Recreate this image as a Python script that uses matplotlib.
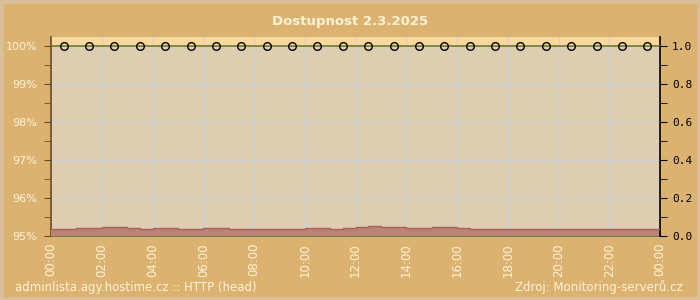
import matplotlib
matplotlib.use("Agg")
import matplotlib.pyplot as plt
from matplotlib.patches import Rectangle
import numpy as np

# availability per hour (%), marker at half past each hour
avail_hours = [h + 0.5 for h in range(24)]
avail_pct = [100.0] * 24

# response time (s) per half hour
resp_start = [h * 0.5 for h in range(48)]
resp_sec = [0.037, 0.037, 0.042, 0.042, 0.047, 0.047, 0.042, 0.037,
            0.042, 0.042, 0.037, 0.037, 0.042, 0.042, 0.037, 0.037,
            0.037, 0.037, 0.037, 0.037, 0.042, 0.042, 0.037, 0.042,
            0.047, 0.053, 0.047, 0.047, 0.042, 0.042, 0.047, 0.047,
            0.042, 0.037, 0.037, 0.037, 0.037, 0.037, 0.037, 0.037,
            0.037, 0.037, 0.037, 0.037, 0.037, 0.037, 0.037, 0.037]

xlabels = ["00:00", "02:00", "04:00", "06:00", "08:00", "10:00", "12:00",
           "14:00", "16:00", "18:00", "20:00", "22:00", "00:00"]
left_labels = ["95%", "96%", "97%", "98%", "99%", "100%"]

cream = "#fff3d6"
fig = plt.figure(figsize=(7, 3), dpi=100, facecolor="#dcb271")
fig.patches.append(Rectangle((0, 0), 1, 1, transform=fig.transFigure,
                             fill=False, edgecolor="#d9c09a", lw=5))

ax = fig.add_axes([51 / 700, 1 - 236 / 300, 609 / 700, 199 / 300])
ax.set_facecolor("#ddcdb1")
top = 95 + 199 / 38
ax.set_xlim(0, 24)
ax.set_ylim(95, top)
ax.axhspan(100, top, color="#fcd89c", zorder=0)

ax.set_xticks(range(0, 25, 2))
ax.set_xticks(np.arange(0, 24.01, 0.5), minor=True)
ax.set_xticklabels(xlabels, rotation=90, color=cream, fontsize=8.5)
ax.set_yticks([95, 96, 97, 98, 99, 100])
ax.set_yticks(np.arange(95.5, 100, 1), minor=True)
ax.set_yticklabels(left_labels, color=cream, fontsize=8)
ax.grid(True, which="major", color="#cdd0d6", lw=0.9)
ax.tick_params(axis="x", which="major", direction="in", length=5, color="#5d6e45", pad=5)
ax.tick_params(axis="x", which="minor", direction="in", length=3, color="#5d6e45")
ax.tick_params(axis="y", which="both", direction="out", length=5, color="#6b4a22", pad=5)
for s in ["top", "right"]:
    ax.spines[s].set_visible(False)
ax.spines["left"].set_color("#6b4a22")
ax.spines["bottom"].set_color("#5d6e45")
ax.spines["left"].set_linewidth(1.2)
ax.spines["bottom"].set_linewidth(1.2)

ax2 = ax.twinx()
ax2.set_ylim(0, 199 / 190)
ax2.set_yticks([0.0, 0.2, 0.4, 0.6, 0.8, 1.0])
ax2.set_yticks([0.1, 0.3, 0.5, 0.7, 0.9], minor=True)
ax2.set_yticklabels(["0.0", "0.2", "0.4", "0.6", "0.8", "1.0"],
                    family="DejaVu Sans Mono", fontsize=8)
ax2.tick_params(axis="y", which="both", direction="out", length=5, color="black")
for s in ["top", "left", "bottom"]:
    ax2.spines[s].set_visible(False)
ax2.spines["right"].set_linewidth(1.2)

xs = resp_start + [24]
ys = resp_sec + [resp_sec[-1]]
ax2.fill_between(xs, ys, step="post", color="#bb8475", lw=0, zorder=2)
ax2.step(xs, ys, where="post", color="#aa5f5a", lw=1, zorder=3)

ax2.plot([0, 24], [1.0, 1.0], color="#6b7a2e", lw=1.2, zorder=4)
ax2.plot(avail_hours, [(v - 95) / 5 for v in avail_pct], ls="none", marker="o",
         ms=5.5, mfc="none", mec="black", mew=1, zorder=5)

fig.text(0.5, 1 - 22 / 300, "Dostupnost 2.3.2025", ha="center", va="center",
         color=cream, fontsize=9.5, fontweight="bold")
fig.text(15 / 700, 1 - 287 / 300, "adminlista.agy.hostime.cz :: HTTP (head)",
         ha="left", va="center", color=cream, fontsize=8.5)
fig.text(683 / 700, 1 - 287 / 300, "Zdroj: Monitoring-serverů.cz",
         ha="right", va="center", color=cream, fontsize=8.5)

fig.savefig("out.png", dpi=100, facecolor=fig.get_facecolor())
